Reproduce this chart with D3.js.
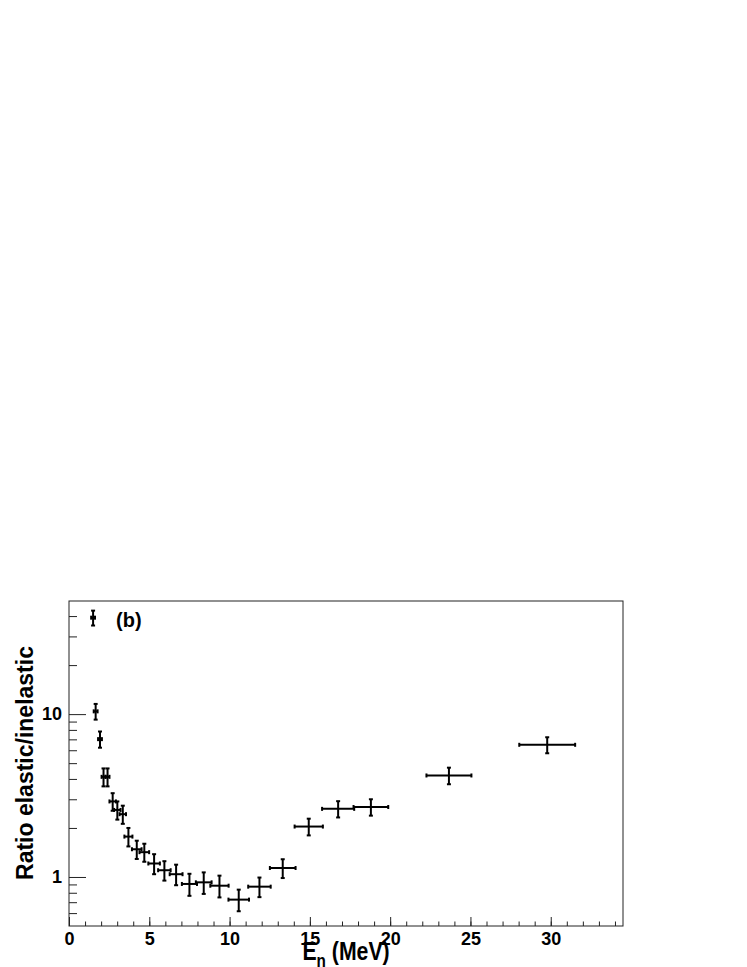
<!DOCTYPE html>
<html>
<head>
<meta charset="utf-8">
<script src="https://cdn.jsdelivr.net/npm/d3@7"></script>
<style>
  body { margin: 0; background: white; }
  svg text { font-family: "Liberation Sans", Arial, sans-serif; font-weight: bold; }
</style>
</head>
<body>
<script>
// energy (MeV), ratio elastic/inelastic and their errors
var energy    = [1.5, 1.66, 1.93, 2.15, 2.4, 2.72, 3.01, 3.35, 3.70, 4.22, 4.69, 5.30, 5.94, 6.67, 7.50, 8.39, 9.37, 10.57, 11.86, 13.31, 14.93, 16.76, 18.80, 23.66, 29.78];
var energyErr = [0.12, 0.12, 0.12, 0.12, 0.12, 0.2, 0.2, 0.2, 0.25, 0.3, 0.3, 0.36, 0.39, 0.4, 0.47, 0.49, 0.57, 0.64, 0.7, 0.8, 0.88, 1.0, 1.08, 1.4, 1.74];
var ratio     = [39.1, 10.4, 7.02, 4.12, 4.12, 2.91, 2.58, 2.43, 1.77, 1.48, 1.42, 1.21, 1.10, 1.04, 0.906, 0.927, 0.884, 0.726, 0.872, 1.135, 2.04, 2.62, 2.69, 4.20, 6.48];
var ratioErr  = [4.1, 1.15, 0.8, 0.52, 0.52, 0.36, 0.33, 0.31, 0.23, 0.19, 0.18, 0.17, 0.15, 0.15, 0.14, 0.14, 0.135, 0.11, 0.12, 0.15, 0.24, 0.30, 0.31, 0.49, 0.73];

var xMajor = [0, 5, 10, 15, 20, 25, 30];
var xMinor = d3.range(0, 35, 1);
var yMajor = [1, 10];
var yMinor = [0.6, 0.7, 0.8, 0.9, 2, 3, 4, 5, 6, 7, 8, 9, 20, 30, 40];

var width = 747, height = 967;
var frameL = 69, frameR = 623, frameT = 601, frameB = 926;

var svg = d3.select("body").append("svg")
    .attr("width", width)
    .attr("height", height);

var x = d3.scaleLinear().domain([0, 34.5]).range([frameL, frameR]);
var y = d3.scaleLog().domain([0.5, 49.5]).range([frameB, frameT]);

// minor ticks
svg.append("g")
    .attr("transform", "translate(0," + frameB + ")")
    .call(d3.axisBottom(x).tickValues(xMinor).tickSizeInner(-4.5).tickSizeOuter(0).tickFormat(""));
svg.append("g")
    .attr("transform", "translate(" + frameL + ",0)")
    .call(d3.axisLeft(y).tickValues(yMinor).tickSizeInner(-8).tickSizeOuter(0).tickFormat(""));

// major ticks with labels
svg.append("g")
    .attr("transform", "translate(0," + frameB + ")")
    .call(d3.axisBottom(x).tickValues(xMajor).tickSizeInner(-9).tickSizeOuter(0).tickPadding(6).tickFormat(d3.format("d")));
svg.append("g")
    .attr("transform", "translate(" + frameL + ",0)")
    .call(d3.axisLeft(y).tickValues(yMajor).tickSizeInner(-17).tickSizeOuter(0).tickPadding(7).tickFormat(d3.format("d")));

svg.selectAll(".domain").remove();
svg.selectAll(".tick line").attr("stroke", "#222").attr("stroke-width", 1);
svg.selectAll(".tick text")
    .attr("font-family", "Liberation Sans, Arial, sans-serif")
    .attr("font-size", 18)
    .attr("font-weight", "bold")
    .attr("fill", "black");

// frame
svg.append("rect")
    .attr("x", frameL).attr("y", frameT)
    .attr("width", frameR - frameL).attr("height", frameB - frameT)
    .attr("fill", "none")
    .attr("stroke", "#222")
    .attr("stroke-width", 1);

// error bars
var pts = energy.map(function (e, i) {
  return { e: e, ex: energyErr[i], r: ratio[i], rx: ratioErr[i] };
});
var cap = 2;
var g = svg.append("g").attr("stroke", "black").attr("stroke-width", 2);
pts.forEach(function (p) {
  var cx = x(p.e), cy = y(p.r);
  var x0 = x(p.e - p.ex), x1 = x(p.e + p.ex);
  var y0 = y(p.r - p.rx), y1 = y(p.r + p.rx);
  g.append("line").attr("x1", x0).attr("x2", x1).attr("y1", cy).attr("y2", cy);
  g.append("line").attr("x1", cx).attr("x2", cx).attr("y1", y0).attr("y2", y1);
  g.append("line").attr("x1", x0).attr("x2", x0).attr("y1", cy - cap).attr("y2", cy + cap);
  g.append("line").attr("x1", x1).attr("x2", x1).attr("y1", cy - cap).attr("y2", cy + cap);
  g.append("line").attr("x1", cx - cap).attr("x2", cx + cap).attr("y1", y0).attr("y2", y0);
  g.append("line").attr("x1", cx - cap).attr("x2", cx + cap).attr("y1", y1).attr("y2", y1);
});

// labels
svg.append("text")
    .attr("x", 116).attr("y", 627)
    .attr("font-size", 20)
    .text("(b)");

svg.append("text")
    .attr("transform", "translate(33,763) rotate(-90)")
    .attr("text-anchor", "middle")
    .attr("font-size", 23)
    .text("Ratio elastic/inelastic");

var xt = svg.append("text")
    .attr("transform", "translate(346,960) scale(0.85,1)")
    .attr("text-anchor", "middle")
    .attr("font-size", 25);
xt.append("tspan").text("E");
xt.append("tspan").attr("font-size", 18).attr("dy", 7).text("n");
xt.append("tspan").attr("dy", -7).text(" (MeV)");
</script>
</body>
</html>
